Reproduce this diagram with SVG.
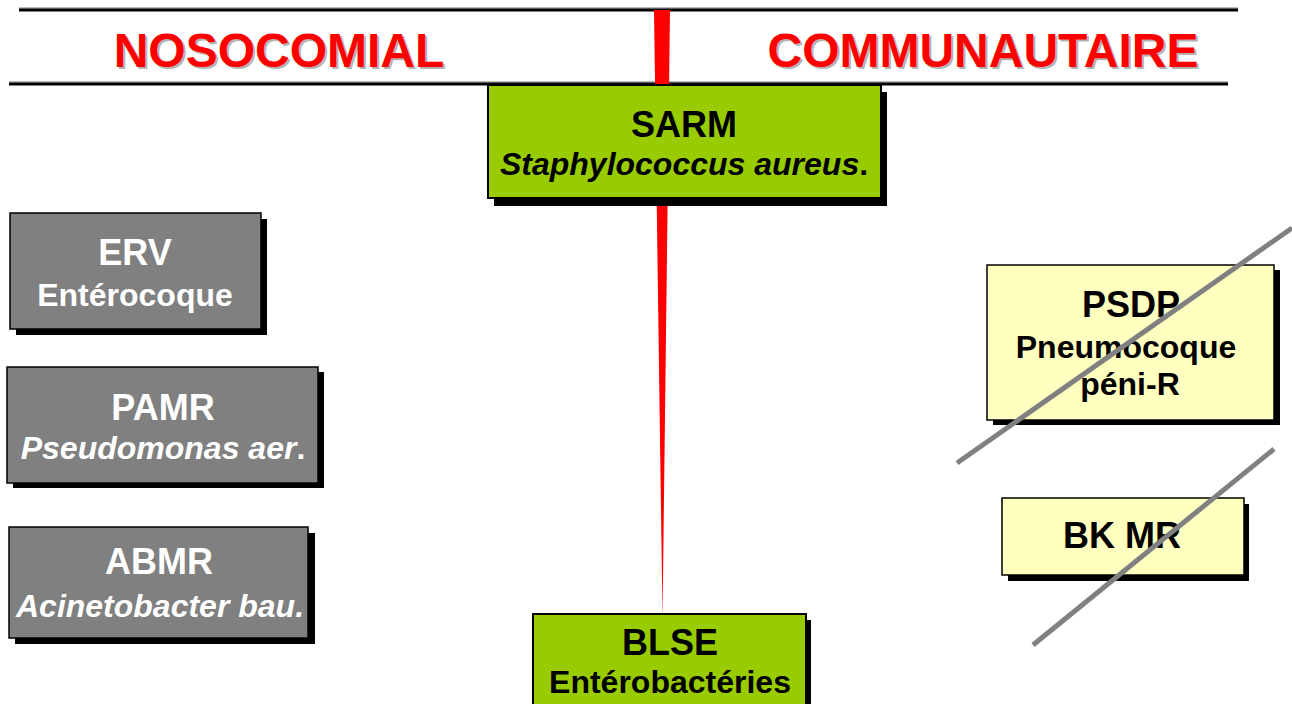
<svg xmlns="http://www.w3.org/2000/svg" width="1292" height="704" viewBox="0 0 1292 704">
<style>
text{font-family:"Liberation Sans",Arial,sans-serif;font-weight:bold;text-anchor:middle}
.head{font-size:48px;fill:#ff0000}
.headsh{font-size:48px;fill:#b4b4b4}
.t{font-size:36px}
.s{font-size:32px}
.i{font-style:italic}
.w{fill:#ffffff}
.k{fill:#000000}
.sh{fill:#000000}
.g{fill:#808080;stroke:#000;stroke-width:1.5}
.gr{fill:#99cc00;stroke:#000;stroke-width:2}
.y{fill:#ffffc0;stroke:#000;stroke-width:1.5}
.rule{stroke:#000;stroke-width:3}
.ruleSh{stroke:#bbbbbb;stroke-width:2}
.strike{stroke:#808080;stroke-width:5}
</style>
<rect width="1292" height="704" fill="#ffffff"/>
<g id="rules">
<line class="ruleSh" x1="19" y1="8" x2="1238" y2="8"/>
<line class="rule" x1="19" y1="10" x2="1238" y2="10"/>
<line class="ruleSh" x1="9" y1="82" x2="1228" y2="82"/>
<line class="rule" x1="9" y1="84" x2="1228" y2="84"/>
</g>
<g id="headings">
<text class="headsh" x="281" y="69">NOSOCOMIAL</text>
<text class="head" x="279" y="67">NOSOCOMIAL</text>
<text class="headsh" x="985" y="69">COMMUNAUTAIRE</text>
<text class="head" x="983" y="67">COMMUNAUTAIRE</text>
</g>
<g id="connectors">
<polygon points="654,10 670,10 662.5,618" fill="#ff0000"/>
</g>
<g id="sarm">
<rect class="sh" x="494" y="92" width="393" height="114"/>
<rect class="gr" x="488" y="85" width="393" height="113"/>
<text class="t k" x="684" y="137">SARM</text>
<text class="s k" x="684" y="175"><tspan class="i">Staphylococcus aureus</tspan>.</text>
</g>
<g id="erv">
<rect class="sh" x="16" y="219" width="251" height="116"/>
<rect class="g" x="10" y="213" width="251" height="116"/>
<text class="t w" x="135" y="265">ERV</text>
<text class="s w" x="135" y="306">Entérocoque</text>
</g>
<g id="pamr">
<rect class="sh" x="13" y="372" width="311" height="116"/>
<rect class="g" x="7" y="367" width="311" height="116"/>
<text class="t w" x="163" y="420">PAMR</text>
<text class="s w" x="163" y="459"><tspan class="i">Pseudomonas aer</tspan>.</text>
</g>
<g id="abmr">
<rect class="sh" x="15" y="533" width="300" height="111"/>
<rect class="g" x="9" y="527" width="299" height="111"/>
<text class="t w" x="159" y="574">ABMR</text>
<text class="s w i" x="160" y="617">Acinetobacter bau.</text>
</g>
<g id="psdp">
<rect class="sh" x="993" y="270" width="287" height="155"/>
<rect class="y" x="987" y="265" width="287" height="155"/>
<text class="t k" x="1131" y="317">PSDP</text>
<text class="s k" x="1126" y="358">Pneumocoque</text>
<text class="s k" x="1130" y="395">péni-R</text>
</g>
<g id="bkmr">
<rect class="sh" x="1008" y="504" width="241" height="77"/>
<rect class="y" x="1002" y="498" width="242" height="77"/>
<text class="t k" x="1122" y="548">BK MR</text>
</g>
<g id="blse">
<rect class="sh" x="539" y="620" width="272" height="90"/>
<rect class="gr" x="533" y="614" width="273" height="96"/>
<text class="t k" x="670" y="655">BLSE</text>
<text class="s k" x="670" y="693">Entérobactéries</text>
</g>
<g id="strikes">
<line class="strike" x1="1292" y1="228" x2="957" y2="463"/>
<line class="strike" x1="1274" y1="449" x2="1033" y2="645"/>
</g>
</svg>
